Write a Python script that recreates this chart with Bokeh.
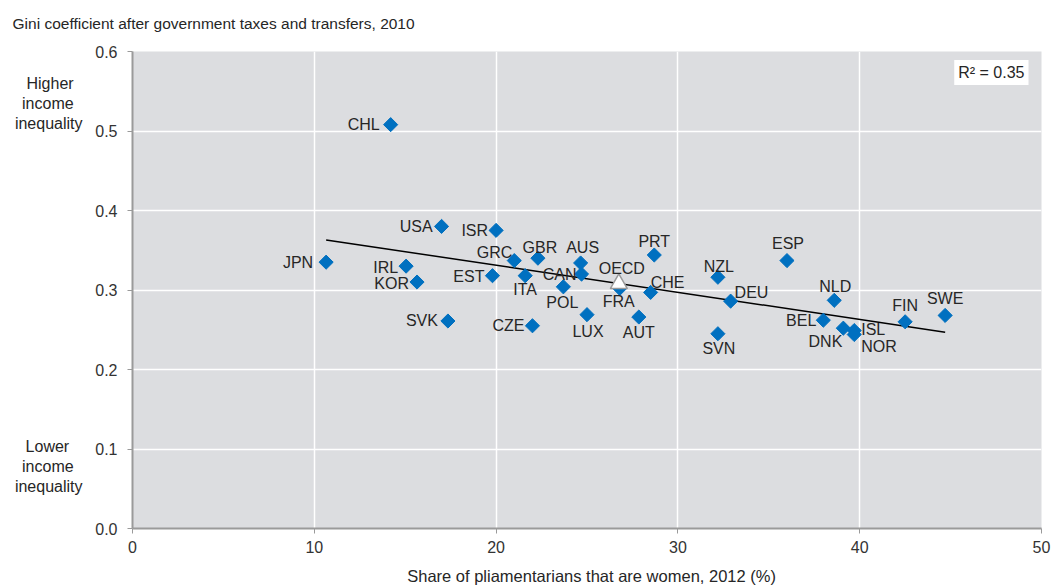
from bokeh.plotting import figure
from bokeh.models import ColumnDataSource, Label, FixedTicker, NumeralTickFormatter, LinearAxis
from bokeh.core.properties import value
from bokeh.embed import file_html
from bokeh.resources import INLINE
import math

# ---- data ----
countries = ["CHL", "USA", "ISR", "JPN", "IRL", "KOR", "SVK", "GRC", "GBR", "AUS",
             "EST", "ITA", "CAN", "POL", "LUX", "FRA", "PRT", "CHE", "AUT", "NZL",
             "DEU", "SVN", "ESP", "NLD", "BEL", "DNK", "ISL", "NOR", "FIN", "SWE", "CZE"]
women_share = [14.2, 17.0, 20.0, 10.65, 15.05, 15.65, 17.35, 21.0, 22.3, 24.65,
               19.8, 21.6, 24.7, 23.7, 25.0, 26.8, 28.7, 28.5, 27.85, 32.2,
               32.9, 32.2, 36.0, 38.6, 38.0, 39.1, 39.7, 39.7, 42.5, 44.7, 22.0]
gini = [0.508, 0.380, 0.375, 0.335, 0.330, 0.310, 0.261, 0.337, 0.340, 0.334,
        0.318, 0.318, 0.320, 0.304, 0.269, 0.302, 0.344, 0.297, 0.266, 0.316,
        0.286, 0.245, 0.337, 0.287, 0.262, 0.252, 0.249, 0.244, 0.260, 0.268, 0.255]

oecd_name = ["OECD"]
oecd_share = [26.75]
oecd_gini = [0.308]

trend_share = [10.65, 44.7]
trend_gini = [0.363, 0.247]

title_text = "Gini coefficient after government taxes and transfers, 2010"
x_title_text = "Share of pliamentarians that are women, 2012 (%)"
r_squared_text = "R\u00b2 = 0.35"
higher_lines = ["Higher", "income", "inequality"]
lower_lines = ["Lower", "income", "inequality"]
x_ticks = [0, 10, 20, 30, 40, 50]
y_ticks = [0.0, 0.1, 0.2, 0.3, 0.4, 0.5, 0.6]

# ---- label placement (styles, screen px) ----
label_style = {
    "CHL": ("right", -11, 0), "USA": ("right", -9, 0), "ISR": ("right", -8, 0),
    "JPN": ("right", -13, 0), "IRL": ("right", -8, 1), "KOR": ("right", -8, 1),
    "SVK": ("right", -10, -1), "GRC": ("right", -2, -8), "GBR": ("center", 2, -11),
    "AUS": ("center", 2, -15), "EST": ("right", -8, 1), "ITA": ("center", 0, 14),
    "CAN": ("right", -5, 0), "POL": ("center", -1, 16), "LUX": ("center", 1, 17),
    "FRA": ("center", -1, 13), "PRT": ("center", 0, -14), "CHE": ("left", 0, -10),
    "AUT": ("center", 0, 15), "NZL": ("center", 1, -11), "DEU": ("left", 4, -9),
    "SVN": ("center", 1, 15), "ESP": ("center", 1, -17), "NLD": ("center", 1, -14),
    "BEL": ("right", -7, 0), "DNK": ("right", -1, 13), "ISL": ("left", 7, -1),
    "NOR": ("left", 7, 12), "FIN": ("center", 0, -16), "SWE": ("center", 0, -17),
    "CZE": ("right", -8, 0),
}
oecd_style = ("center", 3, -15)
# positions (data units) of the texts carried by tick-less helper axes
side_note_pos = [0.5346, 0.078]
title_pos = 4.46
line_pad = {"Higher": 2, "income": 2, "inequality": 0, "Lower": 3}

FONT = "Liberation Sans"
TEXT_COLOR = "#262626"
NBSP = "\u00a0"

p = figure(width=1051, height=587, output_backend="svg", toolbar_location=None,
           x_range=(0, 50), y_range=(0, 0.6), title=None,
           min_border_left=132, min_border_right=10, min_border_top=51, min_border_bottom=59)
p.background_fill_color = "#dcdde0"
p.border_fill_color = "white"
p.outline_line_color = None

# grid
p.xgrid.grid_line_color = "white"
p.ygrid.grid_line_color = "white"
p.xgrid.grid_line_width = 1.5
p.ygrid.grid_line_width = 1.5

# axes
p.xaxis.ticker = FixedTicker(ticks=x_ticks)
p.yaxis.ticker = FixedTicker(ticks=y_ticks)
p.yaxis.formatter = NumeralTickFormatter(format="0.0")
for ax in (p.xaxis, p.yaxis):
    ax.axis_line_color = "#9a9a9a"
    ax.axis_line_width = 2
    ax.major_tick_line_color = "#9a9a9a"
    ax.major_tick_out = 5
    ax.major_tick_in = 0
    ax.minor_tick_line_color = None
    ax.major_label_text_font = FONT
    ax.major_label_text_font_size = "16px"
    ax.major_label_text_color = "#333333"
p.xaxis.major_label_standoff = 7
p.yaxis.major_label_standoff = 10
p.xaxis.axis_label = NBSP * 2 + x_title_text
p.xaxis.axis_label_text_font = FONT
p.xaxis.axis_label_text_font_size = "16.5px"
p.xaxis.axis_label_text_font_style = "normal"
p.xaxis.axis_label_text_color = TEXT_COLOR
p.xaxis.axis_label_standoff = 11


def text_axis(ticks, overrides, standoff, size):
    ax = LinearAxis(ticker=FixedTicker(ticks=ticks), major_label_overrides=overrides)
    ax.axis_line_color = None
    ax.major_tick_line_color = None
    ax.minor_tick_line_color = None
    ax.major_tick_out = 0
    ax.major_tick_in = 0
    ax.major_label_standoff = standoff
    ax.major_label_text_font = FONT
    ax.major_label_text_font_size = size
    ax.major_label_text_color = TEXT_COLOR
    return ax


# title carried by a tick-less axis above the frame
p.add_layout(text_axis([title_pos], {title_pos: title_text}, 20, "15.5px"), "above")


# side notes as a tick-less extra left axis
def block(lines):
    return "\n".join(l + NBSP * line_pad.get(l, 0) for l in lines)


p.add_layout(text_axis(side_note_pos, {side_note_pos[0]: block(higher_lines),
                                       side_note_pos[1]: block(lower_lines)}, 10, "16px"), "left")

# trend line
p.line(trend_share, trend_gini, line_color="black", line_width=1.5)

# countries
src = ColumnDataSource(dict(x=women_share, y=gini, name=countries))
p.scatter("x", "y", source=src, marker="square", angle=math.pi / 4, size=10,
          fill_color="#0070c0", line_color="#0070c0", line_width=1)

# OECD
p.scatter(oecd_share, oecd_gini, marker="triangle", size=17,
          fill_color="white", line_color="#9a9a9a", line_width=1.5)

# labels by alignment group
groups = {}
for name, xv, yv in zip(countries, women_share, gini):
    al, dx, dy = label_style[name]
    g = groups.setdefault(al, dict(x=[], y=[], t=[], dx=[], dy=[]))
    g["x"].append(xv); g["y"].append(yv); g["t"].append(name)
    g["dx"].append(dx); g["dy"].append(dy)
al, dx, dy = oecd_style
g = groups.setdefault(al, dict(x=[], y=[], t=[], dx=[], dy=[]))
g["x"].append(oecd_share[0]); g["y"].append(oecd_gini[0]); g["t"].append(oecd_name[0])
g["dx"].append(dx); g["dy"].append(dy)

for al, g in groups.items():
    s = ColumnDataSource(g)
    p.text("x", "y", text="t", x_offset="dx", y_offset="dy", source=s,
           text_align=al, text_baseline="middle", text_font=value(FONT),
           text_font_size="16px", text_color=TEXT_COLOR)

# R squared box
p.add_layout(Label(x=50, y=0.6, x_offset=-13, y_offset=-21, text=r_squared_text,
                   text_align="right", text_baseline="middle", text_font=FONT,
                   text_font_size="16px", text_color=TEXT_COLOR,
                   background_fill_color="white", padding=4))

open("out.html", "w").write(file_html(p, INLINE))
